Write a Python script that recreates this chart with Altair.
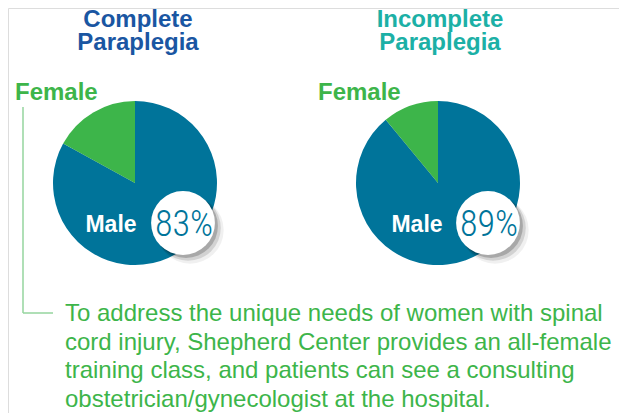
import altair as alt
import pandas as pd

# ---- data ----
categories = ["Male", "Female"]
complete_values = [83, 17]
incomplete_values = [89, 11]
panel_titles = [["Complete", "Paraplegia"], ["Incomplete", "Paraplegia"]]
pct_labels = ["83%", "89%"]
body_lines = [
    "To address the unique needs of women with spinal",
    "cord injury, Shepherd Center provides an all-female",
    "training class, and patients can see a consulting",
    "obstetrician/gynecologist at the hospital.",
]

W, H = 611, 405
M = 8  # page margin


def px(x):
    return x - M


def py(y):
    return y - M


BLUE = "#00749a"
GREEN = "#3db54a"
TITLE1 = "#1a56a2"
TITLE2 = "#1cb0a6"
LINE = "#94d59e"
SANS = "Liberation Sans, Arial, Helvetica, sans-serif"
NARROW = "'Roboto Condensed', 'Noto Sans Condensed', 'Liberation Sans Narrow', 'DejaVu Sans Condensed', sans-serif"

one = pd.DataFrame({"k": [0]})


def pie(values, cx, cy, r=82):
    df = pd.DataFrame({"sex": categories, "pct": values, "ord": [0, 1]})
    shadow = alt.Chart(one).mark_circle(size=3.1416 * (r + 1) ** 2, color="#000000", opacity=0.12).encode(
        x=alt.value(px(cx + 2)), y=alt.value(py(cy + 3))
    )
    arcs = alt.Chart(df).mark_arc(radius=r).encode(
        theta=alt.Theta("pct:Q", stack=True, scale=alt.Scale(domain=[0, 100])),
        color=alt.Color("sex:N", scale=alt.Scale(domain=categories, range=[BLUE, GREEN]), legend=None),
        order=alt.Order("ord:Q"),
        x=alt.value(px(cx)),
        y=alt.value(py(cy)),
    )
    return [shadow, arcs]


def badge(label, cx, cy, r=36):
    layers = []
    for dx, dy, dr, op in [(7, 7, 2, 0.06), (5, 5, 1, 0.12), (3, 3, 0, 0.2)]:
        layers.append(
            alt.Chart(one).mark_circle(size=3.1416 * (r + dr) ** 2, color="#000000", opacity=op).encode(
                x=alt.value(px(cx + dx)), y=alt.value(py(cy + dy))
            )
        )
    layers.append(
        alt.Chart(one).mark_circle(size=3.1416 * r ** 2, color="white", opacity=1).encode(
            x=alt.value(px(cx)), y=alt.value(py(cy))
        )
    )
    layers.append(
        alt.Chart(pd.DataFrame({"t": [label]})).mark_text(
            font=NARROW, fontSize=36, fontWeight=300, color=BLUE, align="center", baseline="alphabetic"
        ).encode(text="t:N", x=alt.value(px(cx + 1)), y=alt.value(py(cy + 13)))
    )
    return layers


def text_layer(t, x, y, size, color, weight="normal", align="left", line_height=None):
    kw = dict(font=SANS, fontSize=size, color=color, fontWeight=weight, align=align, baseline="alphabetic")
    if line_height:
        kw.update(lineBreak="\n", lineHeight=line_height)
    return alt.Chart(pd.DataFrame({"t": [t]})).mark_text(**kw).encode(
        text="t:N", x=alt.value(px(x)), y=alt.value(py(y))
    )


layers = []
# connector lines
layers.append(
    alt.Chart(one).mark_rule(color=LINE, strokeWidth=1.5).encode(
        x=alt.value(px(23)), y=alt.value(py(107)), y2=alt.value(py(313))
    )
)
layers.append(
    alt.Chart(one).mark_rule(color=LINE, strokeWidth=1.5).encode(
        x=alt.value(px(23)), x2=alt.value(px(53)), y=alt.value(py(313))
    )
)

layers += pie(complete_values, 135, 183)
layers += pie(incomplete_values, 438, 183)

layers.append(text_layer("Male", 111, 232, 23, "white", "bold", "center"))
layers.append(text_layer("Male", 417, 232, 23, "white", "bold", "center"))

layers += badge(pct_labels[0], 183, 223)
layers += badge(pct_labels[1], 488, 223)

for (l1, l2), cx, col in zip(panel_titles, [138, 440], [TITLE1, TITLE2]):
    layers.append(text_layer(l1, cx, 27, 24, col, "bold", "center"))
    layers.append(text_layer(l2, cx, 50, 24, col, "bold", "center"))

layers.append(text_layer("Female", 15, 100, 24, GREEN, "bold", "left"))
layers.append(text_layer("Female", 318, 100, 24, GREEN, "bold", "left"))

layers.append(text_layer("\n".join(body_lines), 65, 321, 24, GREEN, "normal", "left", 28.5))

chart = (
    alt.layer(*layers)
    .properties(width=W, height=H, padding=0, autosize=alt.AutoSizeParams(type="none"))
    .configure_view(stroke="transparent", strokeWidth=0)
    .configure(background="white")
)

chart.save("out.html", embed_options={"renderer": "svg", "actions": False})
